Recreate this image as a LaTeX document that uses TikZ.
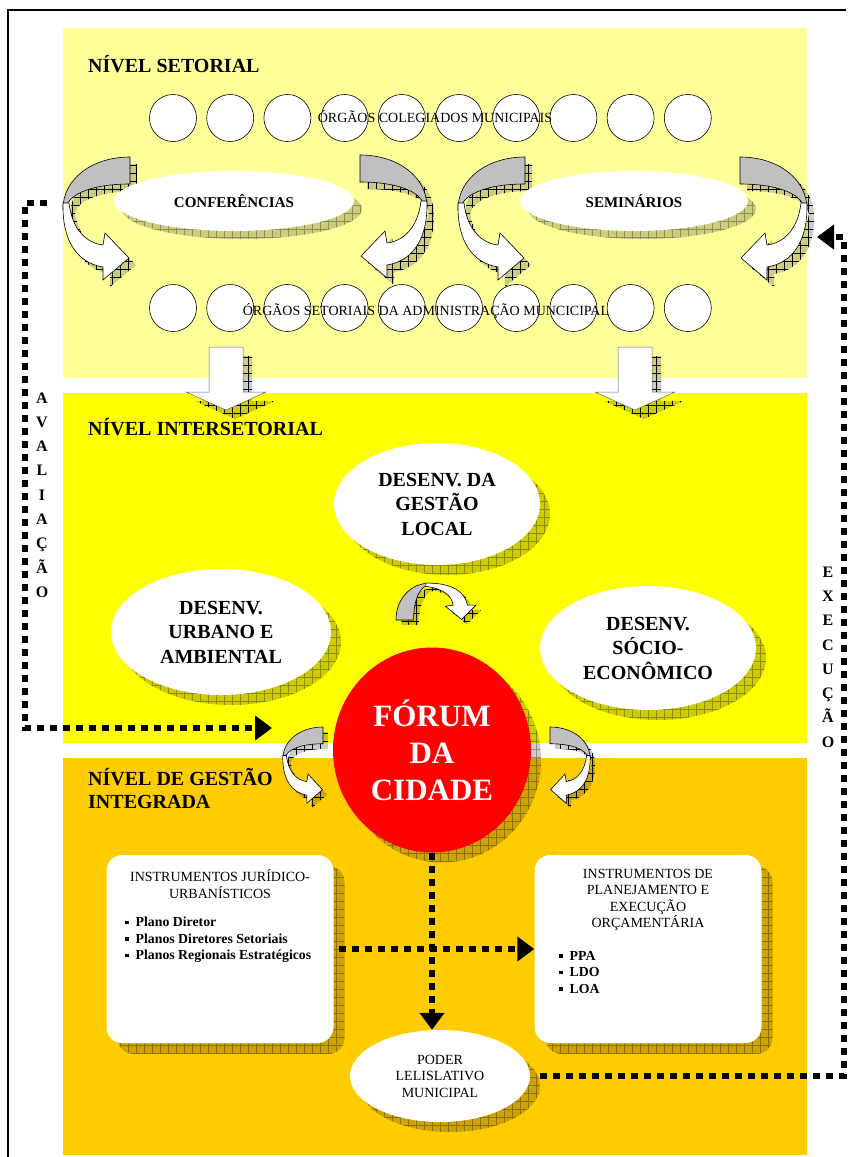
\documentclass[tikz,border=0pt]{standalone}
\usepackage{fontspec}
\setmainfont{Liberation Serif}
\usetikzlibrary{shapes.geometric,arrows.meta,patterns.meta,shadows}

\definecolor{setorial}{RGB}{255,255,153}
\definecolor{intersetorial}{RGB}{255,255,0}
\definecolor{integrada}{RGB}{255,204,0}
\definecolor{forumred}{RGB}{255,0,0}
\definecolor{verso}{RGB}{192,192,192}

\newcommand{\bul}{\raisebox{2.5pt}{\rule{3.5pt}{3.5pt}}\hspace{7pt}}

\tikzset{
  gridfill/.style={fill=black, fill opacity=.2,
    postaction={pattern={Hatch[distance=8pt,angle=0,line width=.5pt]}, pattern color=black, fill opacity=.3}},
  gridshadow/.style={
    drop shadow={shadow xshift=#1, shadow yshift=-#1, fill=black, opacity=.2},
    drop shadow={shadow xshift=#1, shadow yshift=-#1, opacity=.3,
      pattern={Hatch[distance=8pt,angle=0,line width=.5pt]}, pattern color=black}},
  gridshadow/.default=8pt,
  % seta curva (fita torcida)
  pics/ribbon/.style={code={
    \path[gridfill, shift={#1}] (0,0) .. controls (38,0) and (67,22) .. (67,52)
      .. controls (68,85) and (52,106) .. (27,110) -- (27,123) -- (1,101) -- (25,76) -- (27,88)
      .. controls (44,86) and (58,72) .. (62,50) .. controls (60,36) and (36,27) .. (0,27) -- cycle;
    \draw[line width=.6pt, fill=verso] (0,0) .. controls (38,0) and (67,22) .. (67,52)
      -- (64,50) .. controls (60,36) and (36,27) .. (0,27) -- cycle;
    \draw[line width=.6pt, fill=white] (67,46) .. controls (68,85) and (52,106) .. (27,110)
      -- (27,123) -- (1,101) -- (25,76) -- (27,88) .. controls (44,86) and (58,72) .. (61,46) -- cycle;
  }},
  % seta larga para baixo
  pics/blockdown/.style={code={
    \path[gridfill, shift={(9,9)}] (-17,0) -- (17,0) -- (17,45) -- (40,45) -- (0,63) -- (-40,45) -- (-17,45) -- cycle;
    \draw[line width=.5pt, draw=black!60, fill=white] (-17,0) -- (17,0) -- (17,45) -- (40,45) -- (0,63) -- (-40,45) -- (-17,45) -- cycle;
  }}
}

\begin{document}
\begin{tikzpicture}[x=1pt,y=-1pt]
\tikzstyle{nivel}=[font=\bfseries\fontsize{20}{23}\selectfont, align=left, inner sep=0pt]
\tikzstyle{orgao}=[ellipse, draw, line width=.6pt, fill=white, minimum width=47pt, minimum height=47pt, inner sep=0pt]
\tikzstyle{orgaotext}=[font=\fontsize{14}{16}\selectfont, inner sep=0pt]
\tikzstyle{evento}=[ellipse, fill=white, inner sep=0pt, minimum height=60pt, font=\bfseries\fontsize{15}{18}\selectfont, gridshadow=8pt]
\tikzstyle{desenv}=[ellipse, fill=white, inner sep=0pt, align=center, font=\bfseries\fontsize{20}{24.5}\selectfont, gridshadow=10pt]
\tikzstyle{forum}=[ellipse, fill=forumred, text=white, inner sep=0pt, align=center, font=\bfseries\fontsize{31}{37}\selectfont, gridshadow=10pt]
\tikzstyle{caixa}=[rectangle, rounded corners=16pt, fill=white, minimum width=227pt, minimum height=188pt, gridshadow=11pt]
\tikzstyle{boxtitle}=[font=\fontsize{14}{16.5}\selectfont, align=center, inner sep=0pt]
\tikzstyle{boxlist}=[font=\bfseries\fontsize{13.8}{16.5}\selectfont, align=left, inner sep=0pt]
\tikzstyle{poder}=[ellipse, fill=white, inner sep=0pt, align=center, minimum width=180pt, minimum height=92pt, font=\fontsize{14}{16.5}\selectfont, gridshadow=10pt]
\tikzstyle{vertical}=[font=\bfseries\fontsize{16}{24.3}\selectfont, align=center, inner sep=0pt]
\tikzstyle{fluxo}=[line width=6.5pt, dash pattern=on 7pt off 6pt, -{Triangle[length=17pt,width=24pt]}]

\useasboundingbox (0,0) rectangle (851,1157);

% moldura
\draw[line width=1.5pt] (8,1157) -- (8,10) -- (846,10);

% niveis
\fill[setorial] (63,28) rectangle (807,378);
\fill[intersetorial] (63,393) rectangle (807,743);
\fill[integrada] (63,758) rectangle (807,1155);

\node[nivel, anchor=base west] (nivel1) at (88,72) {NÍVEL SETORIAL};
\node[nivel, anchor=base west] (nivel2) at (88,435) {NÍVEL INTERSETORIAL};
\node[nivel, anchor=base west] (nivel3) at (88,808) {NÍVEL DE GESTÃO\\INTEGRADA};

% orgaos
\foreach \i in {0,...,9} {
  \node[orgao] (colegiado\i) at (173+57.2*\i,118) {};
  \node[orgao] (setorial\i) at (173+57.2*\i,308) {};
}
\node[orgaotext] (colegiados) at (435,117) {ÓRGÃOS COLEGIADOS MUNICIPAIS};
\node[orgaotext] (setoriais) at (426,311) {ÓRGÃOS SETORIAIS DA ADMINISTRAÇÃO MUNCICIPAL};

% setas curvas
\pic[xscale=-1] at (130,157) {ribbon={(-7,7)}};
\pic at (360,155) {ribbon={(7,7)}};
\pic[xscale=-1] at (525,157) {ribbon={(-7,7)}};
\pic at (740,157) {ribbon={(7,7)}};

\node[evento, minimum width=240pt] (conf) at (234,201) {CONFERÊNCIAS};
\node[evento, minimum width=228pt] (semin) at (634,201) {SEMINÁRIOS};

\pic at (226,347) {blockdown};
\pic at (635,347) {blockdown};

% nivel intersetorial
\node[desenv, minimum width=206pt, minimum height=122pt] (gestao) at (437,504) {DESENV. DA\\GESTÃO\\LOCAL};
\node[desenv, minimum width=220pt, minimum height=126pt] (urbano) at (221,632) {DESENV.\\URBANO E\\AMBIENTAL};
\node[desenv, minimum width=216pt, minimum height=124pt] (socio) at (648,648) {DESENV.\\SÓCIO-\\ECONÔMICO};

\pic[rotate=90, xscale=.55, yscale=.65] at (396,620) {ribbon={(-9,8)}};
\pic[xscale=-.6, yscale=.62] at (323,727) {ribbon={(-8,8)}};
\pic[xscale=.6, yscale=.62] at (550,727) {ribbon={(8,8)}};

\node[forum, minimum width=198pt, minimum height=205pt] (forum) at (432,750) {FÓRUM\\DA\\CIDADE};

% gestao integrada
\node[caixa] (jur) at (220,949) {};
\node[caixa] (orc) at (648,949) {};
\node[boxtitle] (jurtitulo) at (220,884) {INSTRUMENTOS JURÍDICO-\\URBANÍSTICOS};
\node[boxlist, anchor=west] (jurlista) at (125,940) {\bul Plano Diretor\\\bul Planos Diretores Setoriais\\\bul Planos Regionais Estratégicos};
\node[boxtitle] (orctitulo) at (648,900) {INSTRUMENTOS DE\\PLANEJAMENTO E\\EXECUÇÃO\\ORÇAMENTÁRIA};
\node[boxlist, anchor=west] (orclista) at (559,972) {\bul PPA\\\bul LDO\\\bul LOA};

\node[poder] (poder) at (440,1076) {PODER\\LELISLATIVO\\MUNICIPAL};

% fluxos
\coordinate (avinicio) at (47,203);
\coordinate (avcanto) at (25,728);
\coordinate (avfim) at (272,728);
\coordinate (excanto) at (844,237);
\coordinate (exfim) at (817,237);

\draw[fluxo] (avinicio) -| (avcanto) -- (avfim);
\draw[fluxo] ([xshift=10pt]poder.east) -| (excanto) -- (exfim);
\draw[fluxo] (forum.south) -- (forum.south |- poder.north);
\draw[fluxo] ([xshift=5pt]jur.east) -- (orc.west);

\node[vertical] (avaliacao) at (42,495) {A\\V\\A\\L\\I\\A\\Ç\\Ã\\O};
\node[vertical] (execucao) at (828,657) {E\\X\\E\\C\\U\\Ç\\Ã\\O};

\end{tikzpicture}
\end{document}
